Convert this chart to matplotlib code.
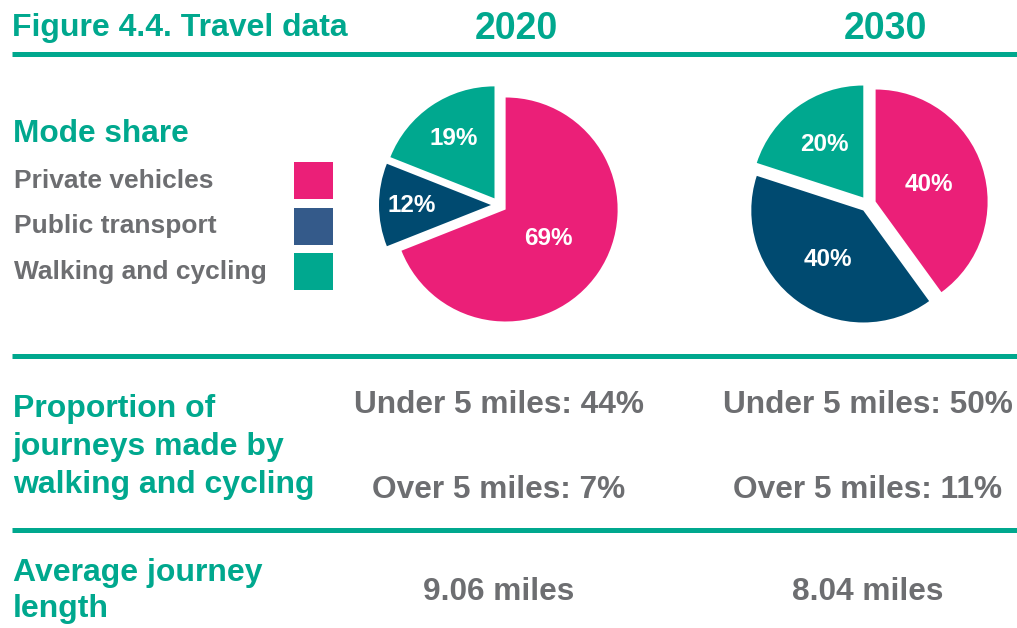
import numpy as np
import matplotlib
matplotlib.use("Agg")
import matplotlib.pyplot as plt
from matplotlib.patches import Rectangle

plt.rcParams['font.family'] = ['Liberation Sans', 'DejaVu Sans']
plt.rcParams['font.weight'] = 'bold'

W, H = 1017, 628
TEAL = "#00A88E"
GREY = "#6D6E71"

modes = ["Private vehicles", "Public transport", "Walking and cycling"]
pie_cols = ["#EB1F78", "#004A70", "#00A88F"]
swatch_cols = ["#EB1F78", "#345A8A", "#00A88F"]
years = ["2020", "2030"]
share_2020 = [69, 12, 19]
share_2030 = [40, 40, 20]
under5 = ["Under 5 miles: 44%", "Under 5 miles: 50%"]
over5 = ["Over 5 miles: 7%", "Over 5 miles: 11%"]
avg_len = ["9.06 miles", "8.04 miles"]

# per-slice label distance (fraction of radius)
lab_dist = [[0.45, 0.70, 0.64], [0.49, 0.53, 0.58]]
col_x = [499, 868]

fig = plt.figure(figsize=(W / 100, H / 100), dpi=100)
bg = fig.add_axes([0, 0, 1, 1])
bg.set_xlim(0, W)
bg.set_ylim(H, 0)
bg.axis("off")

# separators
for y in [54, 355.5, 529.5]:
    bg.plot([12, W], [y, y], color=TEAL, lw=3.6, solid_capstyle="butt")

bg.text(12, 36, "Figure 4.4. Travel data", color=TEAL, fontsize=23, va="baseline")
for i, yr in enumerate(years):
    bg.text(col_x[i] + 17, 39, yr, color=TEAL, fontsize=27, ha="center", va="baseline")

bg.text(13, 142, "Mode share", color=TEAL, fontsize=22.8, va="baseline")
for i, m in enumerate(modes):
    bg.text(14, 188 + 45.5 * i, m, color=GREY, fontsize=19, va="baseline")
    bg.add_patch(Rectangle((294, 162 + 45.5 * i), 39, 37, color=swatch_cols[i], lw=0))

for k, s in enumerate(["Proportion of", "journeys made by", "walking and cycling"]):
    bg.text(13, 417 + 38 * k, s, color=TEAL, fontsize=23, va="baseline")
for k, s in enumerate(["Average journey", "length"]):
    bg.text(13, 581 + 36 * k, s, color=TEAL, fontsize=23, va="baseline")

for i in range(2):
    bg.text(col_x[i], 413, under5[i], color=GREY, fontsize=22.8, ha="center", va="baseline")
    bg.text(col_x[i], 498, over5[i], color=GREY, fontsize=22.8, ha="center", va="baseline")
    bg.text(col_x[i], 600, avg_len[i], color=GREY, fontsize=22.8, ha="center", va="baseline")

# pies
R = 1.12
ex = 0.08
cy = [205, 204]
for i, vals in enumerate([share_2020, share_2030]):
    size = 300
    ax = fig.add_axes([(col_x[i] - size / 2) / W, (H - cy[i] - size / 2) / H, size / W, size / H])
    ax.pie(vals, colors=pie_cols, startangle=90, counterclock=False, radius=R,
           explode=[ex] * 3, wedgeprops=dict(linewidth=0))
    ax.set_xlim(-1.5, 1.5)
    ax.set_ylim(-1.5, 1.5)
    ax.set_aspect("auto")
    frac = np.array(vals) / sum(vals)
    start = 90 - 360 * np.concatenate([[0], np.cumsum(frac)[:-1]])
    mid = np.deg2rad(start - 180 * frac)
    for j, v in enumerate(vals):
        d = (ex + lab_dist[i][j]) * R
        ax.text(d * np.cos(mid[j]), d * np.sin(mid[j]), f"{v}%", color="white",
                fontsize=17.5, ha="center", va="center")

fig.savefig("out.png", dpi=100)
